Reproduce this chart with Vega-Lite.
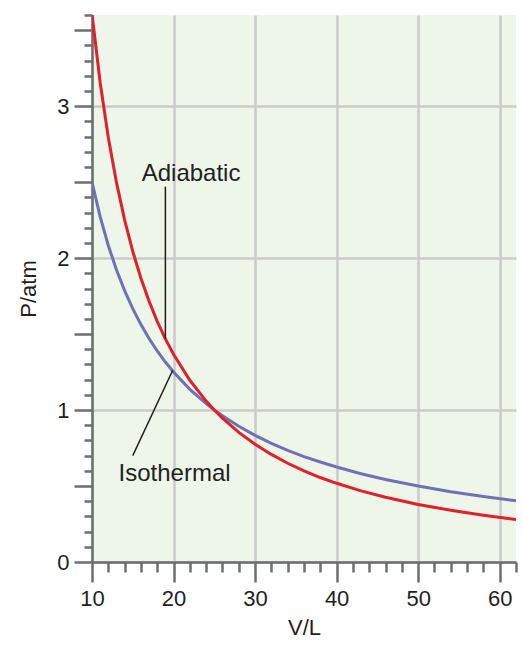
{
  "$schema": "https://vega.github.io/schema/vega-lite/v6.json",
  "width": 424,
  "height": 547,
  "autosize": {"type": "none"},
  "padding": {"left": 92, "top": 15, "right": 7, "bottom": 86},
  "background": "white",
  "config": {"view": {"fill": "#eef5e9", "stroke": null}, "font": "Liberation Sans"},
  "datasets": {
    "curves": [
      {"process": "Isothermal", "V": 10, "P": 2.5},
      {"process": "Isothermal", "V": 11, "P": 2.273},
      {"process": "Isothermal", "V": 12, "P": 2.083},
      {"process": "Isothermal", "V": 13, "P": 1.923},
      {"process": "Isothermal", "V": 14, "P": 1.786},
      {"process": "Isothermal", "V": 15, "P": 1.667},
      {"process": "Isothermal", "V": 16, "P": 1.5625},
      {"process": "Isothermal", "V": 17, "P": 1.471},
      {"process": "Isothermal", "V": 18, "P": 1.389},
      {"process": "Isothermal", "V": 19, "P": 1.316},
      {"process": "Isothermal", "V": 20, "P": 1.25},
      {"process": "Isothermal", "V": 22, "P": 1.136},
      {"process": "Isothermal", "V": 24, "P": 1.042},
      {"process": "Isothermal", "V": 25, "P": 1.0},
      {"process": "Isothermal", "V": 26, "P": 0.962},
      {"process": "Isothermal", "V": 28, "P": 0.893},
      {"process": "Isothermal", "V": 30, "P": 0.833},
      {"process": "Isothermal", "V": 32, "P": 0.781},
      {"process": "Isothermal", "V": 34, "P": 0.735},
      {"process": "Isothermal", "V": 36, "P": 0.694},
      {"process": "Isothermal", "V": 38, "P": 0.658},
      {"process": "Isothermal", "V": 40, "P": 0.625},
      {"process": "Isothermal", "V": 43, "P": 0.581},
      {"process": "Isothermal", "V": 46, "P": 0.543},
      {"process": "Isothermal", "V": 50, "P": 0.5},
      {"process": "Isothermal", "V": 54, "P": 0.463},
      {"process": "Isothermal", "V": 58, "P": 0.431},
      {"process": "Isothermal", "V": 62, "P": 0.403},
      {"process": "Adiabatic", "V": 10, "P": 3.607},
      {"process": "Adiabatic", "V": 11, "P": 3.156},
      {"process": "Adiabatic", "V": 12, "P": 2.794},
      {"process": "Adiabatic", "V": 13, "P": 2.498},
      {"process": "Adiabatic", "V": 14, "P": 2.252},
      {"process": "Adiabatic", "V": 15, "P": 2.044},
      {"process": "Adiabatic", "V": 16, "P": 1.868},
      {"process": "Adiabatic", "V": 17, "P": 1.716},
      {"process": "Adiabatic", "V": 18, "P": 1.584},
      {"process": "Adiabatic", "V": 19, "P": 1.468},
      {"process": "Adiabatic", "V": 20, "P": 1.367},
      {"process": "Adiabatic", "V": 22, "P": 1.196},
      {"process": "Adiabatic", "V": 24, "P": 1.059},
      {"process": "Adiabatic", "V": 25, "P": 1.0},
      {"process": "Adiabatic", "V": 26, "P": 0.947},
      {"process": "Adiabatic", "V": 28, "P": 0.853},
      {"process": "Adiabatic", "V": 30, "P": 0.775},
      {"process": "Adiabatic", "V": 32, "P": 0.708},
      {"process": "Adiabatic", "V": 34, "P": 0.65},
      {"process": "Adiabatic", "V": 36, "P": 0.6},
      {"process": "Adiabatic", "V": 38, "P": 0.556},
      {"process": "Adiabatic", "V": 40, "P": 0.518},
      {"process": "Adiabatic", "V": 43, "P": 0.468},
      {"process": "Adiabatic", "V": 46, "P": 0.426},
      {"process": "Adiabatic", "V": 50, "P": 0.379},
      {"process": "Adiabatic", "V": 54, "P": 0.34},
      {"process": "Adiabatic", "V": 58, "P": 0.308},
      {"process": "Adiabatic", "V": 62, "P": 0.28}
    ],
    "leaders": [
      {"V1": 19, "P1": 2.47, "V2": 19, "P2": 1.47},
      {"V1": 19.9, "P1": 1.262, "V2": 15.0, "P2": 0.7}
    ],
    "labels": [
      {"label": "Adiabatic", "V": 22.15, "P": 2.508},
      {"label": "Isothermal", "V": 20.13, "P": 0.53}
    ]
  },
  "layer": [
    {
      "data": {"name": "curves"},
      "mark": {"type": "line", "strokeWidth": 3, "clip": true},
      "encoding": {
        "x": {
          "field": "V", "type": "quantitative",
          "scale": {"domain": [10, 62], "nice": false, "zero": false},
          "axis": {
            "values": [10, 12, 14, 16, 18, 20, 22, 24, 26, 28, 30, 32, 34, 36, 38, 40, 42, 44, 46, 48, 50, 52, 54, 56, 58, 60, 62],
            "tickCount": 200,
            "title": "V/L",
            "labelExpr": "datum.value % 10 === 0 ? format(datum.value, 'd') : ''",
            "tickSize": {"condition": {"test": "datum.value % 10 === 0", "value": 20}, "value": 10},
            "grid": true,
            "gridColor": "#cbcbcb",
            "gridWidth": 2.5,
            "gridOpacity": {"condition": {"test": "datum.value % 10 === 0", "value": 1}, "value": 0},
            "domainColor": "#6d6e71", "domainWidth": 2.5,
            "tickColor": "#6d6e71", "tickWidth": 2.5,
            "labelFontSize": 22, "labelColor": "#231f20", "labelPadding": 6,
            "labelFlush": false, "labelOverlap": false,
            "titleFontSize": 22, "titleFontWeight": "normal", "titleColor": "#231f20", "titlePadding": 8
          }
        },
        "y": {
          "field": "P", "type": "quantitative",
          "scale": {"domain": [0, 3.6], "nice": false},
          "axis": {
            "values": [0, 0.1, 0.2, 0.3, 0.4, 0.5, 0.6, 0.7, 0.8, 0.9, 1, 1.1, 1.2, 1.3, 1.4, 1.5, 1.6, 1.7, 1.8, 1.9, 2, 2.1, 2.2, 2.3, 2.4, 2.5, 2.6, 2.7, 2.8, 2.9, 3, 3.1, 3.2, 3.3, 3.4, 3.5, 3.6],
            "tickCount": 200,
            "title": "P/atm",
            "labelExpr": "abs(datum.value - round(datum.value)) < 0.001 ? format(datum.value, 'd') : ''",
            "tickSize": {"condition": {"test": "abs(datum.value * 2 - round(datum.value * 2)) < 0.001", "value": 18}, "value": 8},
            "grid": true,
            "gridColor": "#cbcbcb",
            "gridWidth": 2.5,
            "gridOpacity": {"condition": {"test": "abs(datum.value - round(datum.value)) < 0.001", "value": 1}, "value": 0},
            "domainColor": "#6d6e71", "domainWidth": 2.5,
            "tickColor": "#6d6e71", "tickWidth": 2.5,
            "labelFontSize": 22, "labelColor": "#231f20", "labelPadding": 5,
            "labelFlush": false, "labelOverlap": false,
            "titleFontSize": 22, "titleFontWeight": "normal", "titleColor": "#231f20", "titlePadding": 16
          }
        },
        "color": {
          "field": "process", "type": "nominal",
          "scale": {"domain": ["Isothermal", "Adiabatic"], "range": ["#6e72b4", "#e0202a"]},
          "legend": null
        },
        "order": {"field": "V", "type": "quantitative"}
      }
    },
    {
      "data": {"name": "leaders"},
      "mark": {"type": "rule", "color": "#231f20", "strokeWidth": 1.5},
      "encoding": {
        "x": {"field": "V1", "type": "quantitative", "title": "V/L"},
        "y": {"field": "P1", "type": "quantitative", "title": "P/atm"},
        "x2": {"field": "V2"},
        "y2": {"field": "P2"}
      }
    },
    {
      "data": {"name": "labels"},
      "mark": {"type": "text", "fontSize": 24, "color": "#231f20", "baseline": "alphabetic", "align": "center"},
      "encoding": {
        "x": {"field": "V", "type": "quantitative", "title": "V/L"},
        "y": {"field": "P", "type": "quantitative", "title": "P/atm"},
        "text": {"field": "label"}
      }
    }
  ]
}
